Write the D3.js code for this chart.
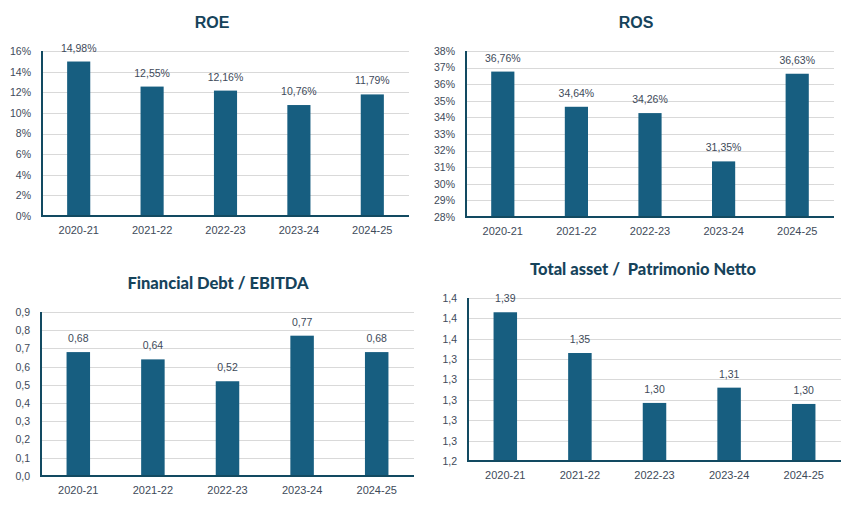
<!DOCTYPE html>
<html>
<head>
<meta charset="utf-8">
<script src="https://cdn.jsdelivr.net/npm/d3@7"></script>
<style>
  html, body { margin: 0; padding: 0; background: #ffffff; }
  svg { display: block; }
</style>
</head>
<body>
<svg id="chart" width="857" height="520"></svg>
<script>
// ---- DATA ----
const categories = ["2020-21", "2021-22", "2022-23", "2023-24", "2024-25"];

const roeValues = [14.98, 12.55, 12.16, 10.76, 11.79];           // %
const roeTicks = [0, 2, 4, 6, 8, 10, 12, 14, 16];

const rosValues = [36.76, 34.64, 34.26, 31.35, 36.63];           // %
const rosTicks = [28, 29, 30, 31, 32, 33, 34, 35, 36, 37, 38];

const debtValues = [0.68, 0.64, 0.52, 0.77, 0.68];
const debtTicks = [0, 0.1, 0.2, 0.3, 0.4, 0.5, 0.6, 0.7, 0.8, 0.9];

const taValues = [1.386, 1.346, 1.297, 1.312, 1.296];
const taTicks = [1.24, 1.26, 1.28, 1.30, 1.32, 1.34, 1.36, 1.38, 1.40];

const titles = ["ROE", "ROS", "Financial Debt / EBITDA", "Total asset /  Patrimonio Netto"];

// ---- STYLE ----
const BAR = "#175e80";
const AXIS = "#124a61";
const GRID = "#d9d9d9";
const TEXT = "#3e4a59";
const TITLE = "#16435b";

const svg = d3.select("#chart");
const comma = s => s.replace(".", ",");

function drawChart(o) {
  const g = svg.append("g");
  const x = d3.scaleBand().domain(categories)
    .range([o.left, o.right]).paddingInner(0.685).paddingOuter(0.3425);
  const y = d3.scaleLinear().domain(o.domain).range([o.bottom, o.top]);

  // gridlines
  g.append("g").selectAll("line").data(o.ticks).join("line")
    .attr("x1", o.left).attr("x2", o.right)
    .attr("y1", d => Math.round(y(d)) + 0.5).attr("y2", d => Math.round(y(d)) + 0.5)
    .attr("stroke", GRID).attr("stroke-width", 1);

  // y axis labels
  const yAxis = d3.axisLeft(y).tickValues(o.ticks).tickSize(0).tickPadding(0)
    .tickFormat(o.tickFmt);
  const ya = g.append("g").attr("transform", `translate(${o.left - 11},0)`).call(yAxis);
  ya.select(".domain").remove();
  ya.selectAll("text").attr("fill", TEXT)
    .style("font-family", "Liberation Sans, Arial, sans-serif").style("font-size", "10.5px");

  // bars
  g.append("g").selectAll("rect").data(o.values).join("rect")
    .attr("x", (d, i) => x(categories[i]))
    .attr("width", x.bandwidth())
    .attr("y", d => y(d))
    .attr("height", d => o.bottom - y(d))
    .attr("fill", BAR);

  // data labels
  g.append("g").selectAll("text").data(o.values).join("text")
    .attr("x", (d, i) => x(categories[i]) + x.bandwidth() / 2)
    .attr("y", d => y(d) - 10)
    .attr("text-anchor", "middle")
    .attr("fill", TEXT)
    .style("font-family", "Liberation Sans, Arial, sans-serif").style("font-size", "10.5px")
    .text(o.labelFmt);

  // axis lines
  g.append("line").attr("x1", o.left).attr("x2", o.left)
    .attr("y1", o.top).attr("y2", o.bottom + 1)
    .attr("stroke", AXIS).attr("stroke-width", 2);
  g.append("line").attr("x1", o.left - 1).attr("x2", o.right)
    .attr("y1", o.bottom).attr("y2", o.bottom)
    .attr("stroke", AXIS).attr("stroke-width", 2);

  // x axis labels
  const xAxis = d3.axisBottom(x).tickSize(0).tickPadding(0);
  const xa = g.append("g").attr("transform", `translate(0,${o.bottom + 10})`).call(xAxis);
  xa.select(".domain").remove();
  xa.selectAll("text").attr("fill", TEXT).attr("dy", "0.71em")
    .style("font-family", "Liberation Sans, Arial, sans-serif").style("font-size", "11px");

  // title
  g.append("text").attr("x", o.titleX).attr("y", o.titleY)
    .attr("text-anchor", "middle").attr("dominant-baseline", "middle")
    .attr("fill", TITLE)
    .style("font-family", o.titleFont).style("font-weight", o.titleWeight || "bold")
    .style("font-size", o.titleSize)
    .style("white-space", "pre")
    .attr("xml:space", "preserve")
    .text(o.title);
}

drawChart({
  title: titles[0], titleX: 212, titleY: 24, titleFont: "Liberation Sans, Arial, sans-serif", titleSize: "16px",
  left: 42, right: 409, top: 51, bottom: 216,
  domain: [0, 16], ticks: roeTicks, values: roeValues,
  tickFmt: d => d + "%", labelFmt: d => comma(d.toFixed(2)) + "%"
});

drawChart({
  title: titles[1], titleX: 636, titleY: 24, titleFont: "Liberation Sans, Arial, sans-serif", titleSize: "16px",
  left: 466, right: 834, top: 51, bottom: 217,
  domain: [28, 38], ticks: rosTicks, values: rosValues,
  tickFmt: d => d + "%", labelFmt: d => comma(d.toFixed(2)) + "%"
});

drawChart({
  title: titles[2], titleX: 218, titleY: 285, titleFont: "Lato, sans-serif", titleSize: "16.5px", titleWeight: "900",
  left: 41, right: 414, top: 312, bottom: 476,
  domain: [0, 0.9], ticks: debtTicks, values: debtValues,
  tickFmt: d => comma(d.toFixed(1)), labelFmt: d => comma(d.toFixed(2))
});

drawChart({
  title: titles[3], titleX: 643, titleY: 271, titleFont: "Lato, sans-serif", titleSize: "16.5px", titleWeight: "900",
  left: 468, right: 841, top: 298, bottom: 461,
  domain: [1.24, 1.40], ticks: taTicks, values: taValues,
  tickFmt: d => comma(d.toFixed(1)), labelFmt: d => comma(d.toFixed(2))
});
</script>
</body>
</html>
